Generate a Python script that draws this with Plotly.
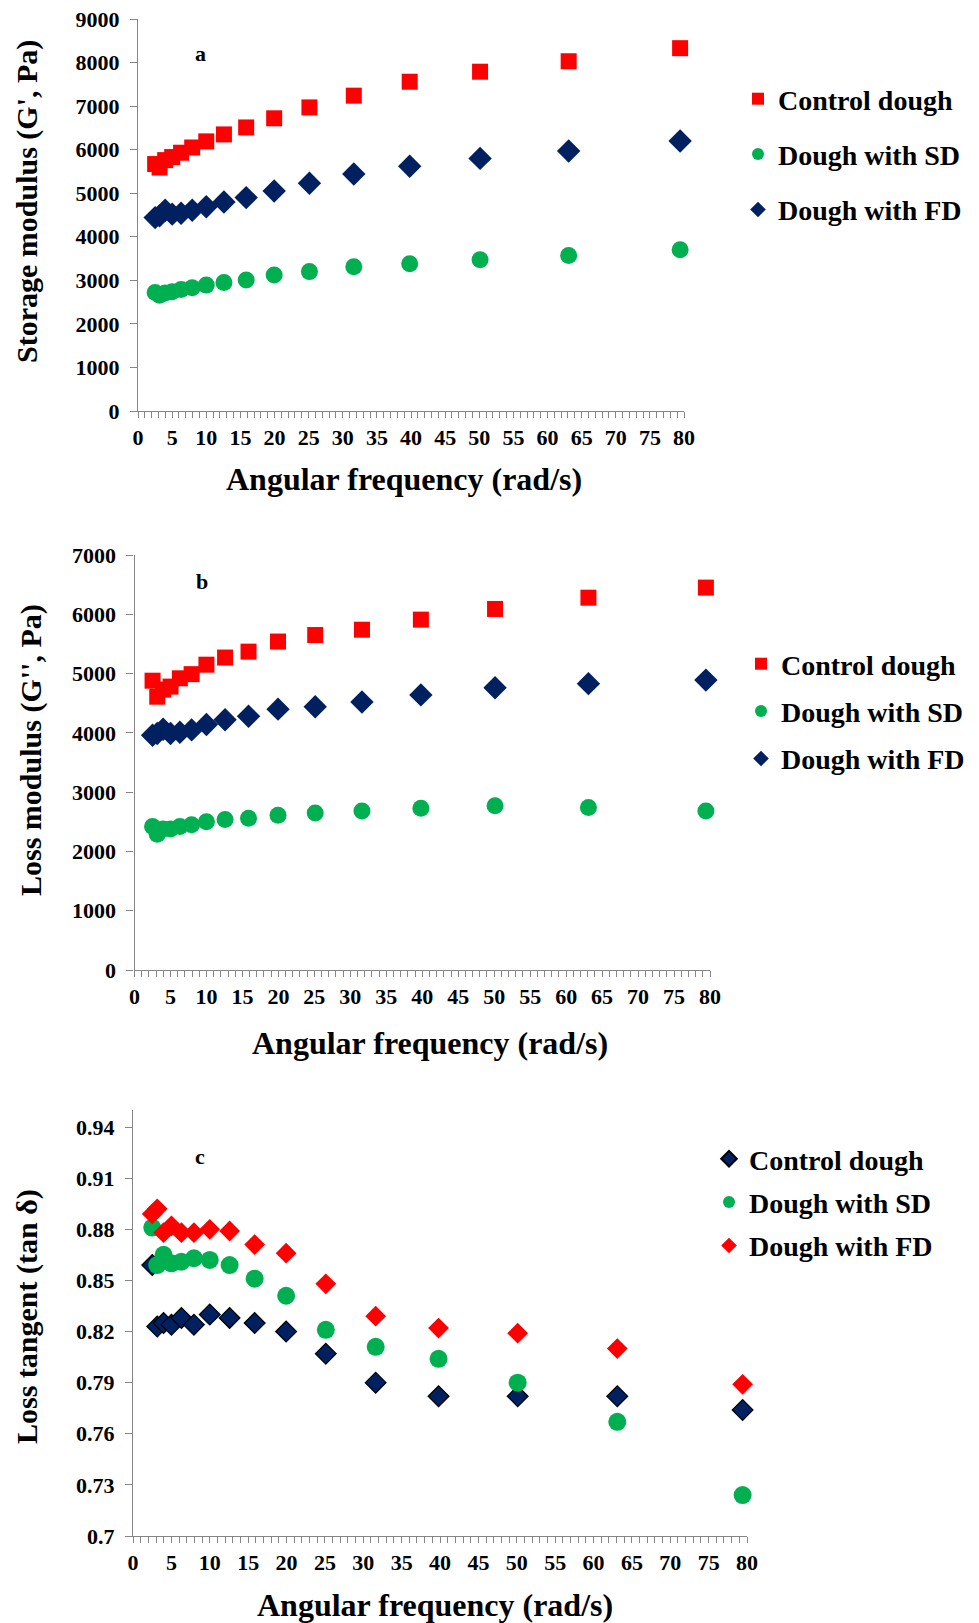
import plotly.graph_objects as go

# ---------------- data ----------------
freq = [2.51, 3.16, 3.98, 5.01, 6.31, 7.94, 10.0, 12.59, 15.85, 19.95, 25.12, 31.62, 39.81, 50.12, 63.10, 79.43]

series_names = ["Control dough", "Dough with SD", "Dough with FD"]

# panel a: storage modulus G' (Pa)
g1_control = [5670, 5590, 5760, 5830, 5930, 6050, 6190, 6350, 6510, 6720, 6970, 7240, 7560, 7790, 8030, 8330]
g1_sd = [2720, 2660, 2710, 2740, 2790, 2830, 2890, 2950, 3010, 3120, 3200, 3310, 3380, 3470, 3570, 3700]
g1_fd = [4440, 4480, 4610, 4520, 4540, 4610, 4690, 4800, 4900, 5050, 5230, 5440, 5620, 5800, 5970, 6200]

# panel b: loss modulus G'' (Pa)
g2_control = [4880, 4610, 4730, 4780, 4920, 4990, 5150, 5270, 5370, 5540, 5650, 5740, 5910, 6090, 6280, 6450]
g2_sd = [2420, 2290, 2380, 2380, 2420, 2450, 2500, 2540, 2560, 2610, 2650, 2680, 2730, 2770, 2740, 2680]
g2_fd = [3960, 3990, 4060, 3990, 4010, 4050, 4140, 4220, 4280, 4400, 4440, 4520, 4640, 4760, 4830, 4890]

# panel c: loss tangent tan delta
tan_control = [0.859, 0.823, 0.825, 0.824, 0.828, 0.824, 0.830, 0.828, 0.825, 0.820, 0.807, 0.790, 0.782, 0.782, 0.782, 0.774]
tan_sd = [0.881, 0.859, 0.865, 0.860, 0.861, 0.863, 0.862, 0.859, 0.851, 0.841, 0.821, 0.811, 0.804, 0.790, 0.767, 0.724]
tan_fd = [0.889, 0.892, 0.878, 0.882, 0.878, 0.878, 0.880, 0.879, 0.871, 0.866, 0.848, 0.829, 0.822, 0.819, 0.810, 0.789]

x_ticks = list(range(0, 81, 5))
y1_ticks = list(range(0, 9001, 1000))
y2_ticks = list(range(0, 7001, 1000))
y3_ticks = [0.70, 0.73, 0.76, 0.79, 0.82, 0.85, 0.88, 0.91, 0.94]
y3_ticktext = ["0.7", "0.73", "0.76", "0.79", "0.82", "0.85", "0.88", "0.91", "0.94"]

panel_labels = ["a", "b", "c"]
x_title = "Angular frequency (rad/s)"
y_titles = ["Storage modulus (G', Pa)", "Loss modulus (G'', Pa)", "Loss tangent (tan δ)"]

# ---------------- style ----------------
PAGE_W, PAGE_H = 979, 1623
OFF = 8  # default page body margin
W, H = PAGE_W - OFF, PAGE_H - OFF
RED = "#FF0000"
GREEN = "#00B050"
NAVY = "#002060"
AXC = "#868686"
FONT = "Liberation Serif"


def fx(px):
    return (px - OFF) / W


def fy(py):
    return 1 - (py - OFF) / H


fig = go.Figure()


def add(x, y, name, symbol, size, color, ax, leg, grp, line=None):
    m = dict(symbol=symbol, size=size, color=color)
    if line:
        m["line"] = line
    fig.add_trace(go.Scatter(x=x, y=y, mode="markers", name=name, marker=m,
                             cliponaxis=False, xaxis=ax[0], yaxis=ax[1],
                             legend=leg, legendgroup=grp))


# panel a traces
add(freq, g1_control, series_names[0], "square", 16, RED, ("x", "y"), "legend", "a1")
add(freq, g1_sd, series_names[1], "circle", 17, GREEN, ("x", "y"), "legend", "a2")
add(freq, g1_fd, series_names[2], "diamond", 18, NAVY, ("x", "y"), "legend", "a3")

# panel b traces
add(freq, g2_control, series_names[0], "square", 16, RED, ("x2", "y2"), "legend2", "b1")
add(freq, g2_sd, series_names[1], "circle", 17, GREEN, ("x2", "y2"), "legend2", "b2")
add(freq, g2_fd, series_names[2], "diamond", 18, NAVY, ("x2", "y2"), "legend2", "b3")

# panel c traces
add(freq, tan_control, series_names[0], "diamond", 16, NAVY, ("x3", "y3"), "legend3", "c1",
    line=dict(color="#000000", width=1.2))
add(freq, tan_sd, series_names[1], "circle", 18, GREEN, ("x3", "y3"), "legend3", "c2")
add(freq, tan_fd, series_names[2], "diamond", 16, RED, ("x3", "y3"), "legend3", "c3")

tickfont = dict(family=FONT, size=22, color="#000000", weight="bold")


def xaxis_cfg(x0, x1, anchor):
    return dict(domain=[fx(x0), fx(x1)], range=[0, 80], anchor=anchor, automargin=False,
                tickmode="array", tickvals=x_ticks, ticktext=[str(v) for v in x_ticks],
                ticks="outside", ticklen=6, tickwidth=1, tickcolor=AXC,
                minor=dict(dtick=1, tick0=0, ticks="outside", ticklen=6, tickwidth=1, tickcolor=AXC),
                showline=True, linecolor=AXC, linewidth=1.3, showgrid=False, zeroline=False,
                tickfont=tickfont, ticklabeloverflow="allow", fixedrange=True)


def yaxis_cfg(y0px, y1px, rng, tickvals, ticktext, anchor):
    return dict(domain=[fy(y1px), fy(y0px)], range=rng, anchor=anchor, automargin=False,
                tickmode="array", tickvals=tickvals, ticktext=ticktext,
                ticks="outside", ticklen=7, tickwidth=1, tickcolor=AXC,
                showline=True, linecolor=AXC, linewidth=1.3, showgrid=False, zeroline=False,
                tickfont=tickfont, ticklabelstandoff=6, ticklabeloverflow="allow",
                fixedrange=True)


legend_font = dict(family=FONT, size=28, color="#000000", weight="bold")


def legend_cfg(xpx, ypx, gap):
    return dict(x=fx(xpx), y=fy(ypx), xanchor="left", yanchor="top",
                font=legend_font, bgcolor="rgba(0,0,0,0)", borderwidth=0,
                tracegroupgap=gap, traceorder="grouped", itemsizing="constant")


fig.update_layout(
    width=W, height=H, autosize=False,
    margin=dict(l=0, r=0, t=0, b=0, autoexpand=False),
    paper_bgcolor="white", plot_bgcolor="white",
    showlegend=True,
    xaxis=xaxis_cfg(138, 684, "y"),
    yaxis=yaxis_cfg(19, 411, [0, 9000], y1_ticks, [str(v) for v in y1_ticks], "x"),
    xaxis2=xaxis_cfg(134.5, 710, "y2"),
    yaxis2=yaxis_cfg(555, 970, [0, 7000], y2_ticks, [str(v) for v in y2_ticks], "x2"),
    xaxis3=xaxis_cfg(133, 747, "y3"),
    yaxis3=yaxis_cfg(1110, 1536, [0.70, 0.95], y3_ticks, y3_ticktext, "x3"),
    legend=legend_cfg(738, 74, 16),
    legend2=legend_cfg(741, 639, 8),
    legend3=legend_cfg(709, 1134, 4),
)

title_font = dict(family=FONT, size=30, color="#000000", weight="bold")
xtitle_font = dict(family=FONT, size=32, color="#000000", weight="bold")
ann = []
# x titles
for (cx, cy) in [(404, 479), (430, 1043), (435, 1605)]:
    ann.append(dict(text=x_title, x=fx(cx), y=fy(cy), xref="paper", yref="paper",
                    xanchor="center", yanchor="middle", showarrow=False, font=xtitle_font))
# y titles
for (cx, cy), t in zip([(27, 202), (31, 750), (27, 1317)], y_titles):
    ann.append(dict(text=t, x=fx(cx), y=fy(cy), xref="paper", yref="paper", textangle=-90,
                    xanchor="center", yanchor="middle", showarrow=False, font=title_font))
# panel letters
for (cx, cy), t in zip([(200, 54), (202, 582), (200, 1156)], panel_labels):
    ann.append(dict(text=t, x=fx(cx), y=fy(cy), xref="paper", yref="paper",
                    xanchor="center", yanchor="middle", showarrow=False,
                    font=dict(family=FONT, size=22, color="#000000", weight="bold")))
fig.update_layout(annotations=ann)

fig.write_html("out.html")
